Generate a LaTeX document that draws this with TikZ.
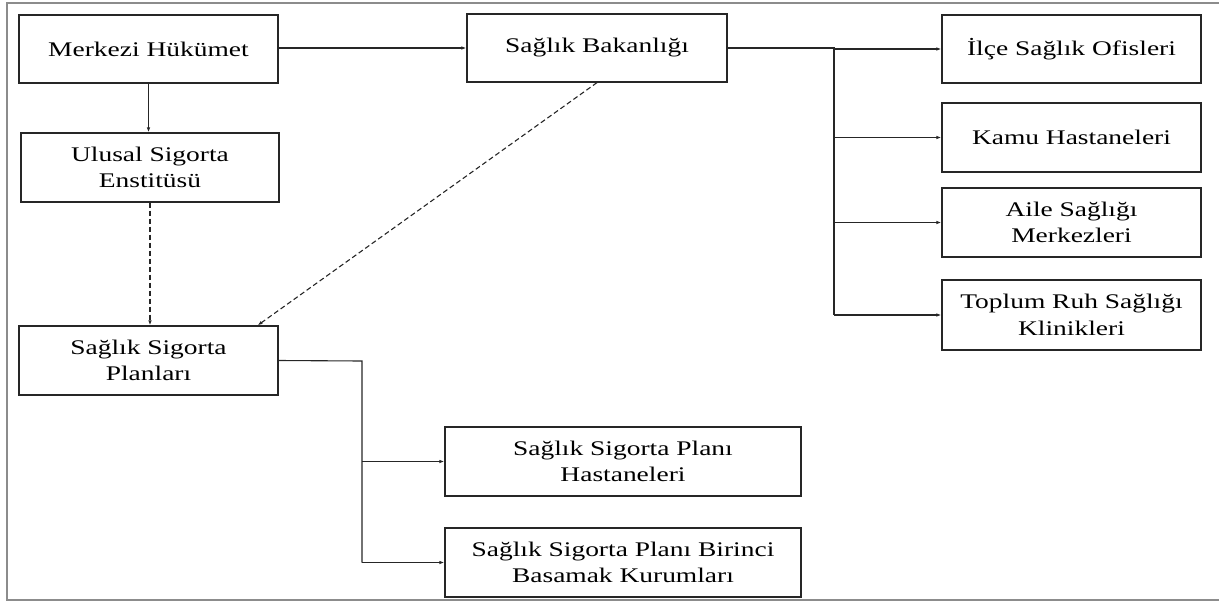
\documentclass[tikz,border=0pt]{standalone}
\usepackage{fontspec}
\setmainfont{Liberation Serif}[FakeStretch=1.32]
\usetikzlibrary{arrows.meta,calc}
\begin{document}
\begin{tikzpicture}[x=1pt,y=-1pt,
  box/.style={draw=black!85,line width=1.2pt,rectangle,inner sep=0pt,align=center,
    font=\fontsize{20.8}{26.7}\selectfont,text=black},
  conn/.style={draw=black!85,line width=1.1pt,-{Latex[length=5pt,width=3.5pt]}},
  plain/.style={draw=black!85,line width=1.1pt},
  dconn/.style={conn,dash pattern=on 5pt off 3pt},
  frame/.style={draw=black!45,line width=2pt}]
\useasboundingbox (0,0) rectangle (1219,603);
\draw[frame] (1219,2.5) -- (7,2.5) -- (7,599.5) -- (1219,599.5);

\node[box,minimum width=259pt,minimum height=68pt] (merk) at (148.5,49) {Merkezi Hükümet};
\node[box,minimum width=258pt,minimum height=69pt] (ulus) at (150,167.5) {Ulusal Sigorta\\Enstitüsü};
\node[box,minimum width=260pt,minimum height=68pt] (bakan) at (597,48) {Sağlık Bakanlığı};
\node[box,minimum width=259pt,minimum height=68pt] (ilce) at (1071.5,49) {İlçe Sağlık Ofisleri};
\node[box,minimum width=259pt,minimum height=69pt] (kamu) at (1071.5,137.5) {Kamu Hastaneleri};
\node[box,minimum width=259pt,minimum height=69pt] (aile) at (1071.5,222.5) {Aile Sağlığı\\Merkezleri};
\node[box,minimum width=259pt,minimum height=70pt] (toplum) at (1071.5,315) {Toplum Ruh Sağlığı\\Klinikleri};
\node[box,minimum width=259pt,minimum height=69pt] (ssp) at (148.5,360.5) {Sağlık Sigorta\\Planları};
\node[box,minimum width=356pt,minimum height=69pt] (ssph) at (623,461.5) {Sağlık Sigorta Planı\\Hastaneleri};
\node[box,minimum width=356pt,minimum height=69pt] (sspb) at (623,562.5) {Sağlık Sigorta Planı Birinci\\Basamak Kurumları};

\coordinate (br1) at (834,48);
\coordinate (br1b) at (834,315);
\coordinate (br2) at (362,361);
\coordinate (br2b) at (362,562.5);

\draw[conn] (merk.east |- bakan.west) -- (bakan.west);
\draw[conn] (merk.south) -- (merk.south |- ulus.north);
\draw[dconn] (ulus.south) -- (ulus.south |- ssp.north);
\draw[dconn] (bakan.south) -- ($(ssp.north east)+(-21,0)$);

\draw[plain] (bakan.east) -- (br1) -- (br1b);
\draw[conn] (br1) -- (br1 |- ilce.west) -- (ilce.west);
\draw[conn] (br1 |- kamu.west) -- (kamu.west);
\draw[conn] (br1 |- aile.west) -- (aile.west);
\draw[conn] (br1 |- toplum.west) -- (toplum.west);

\draw[plain] (ssp.east) -- (br2) -- (br2b);
\draw[conn] (br2 |- ssph.west) -- (ssph.west);
\draw[conn] (br2 |- sspb.west) -- (sspb.west);
\end{tikzpicture}
\end{document}
